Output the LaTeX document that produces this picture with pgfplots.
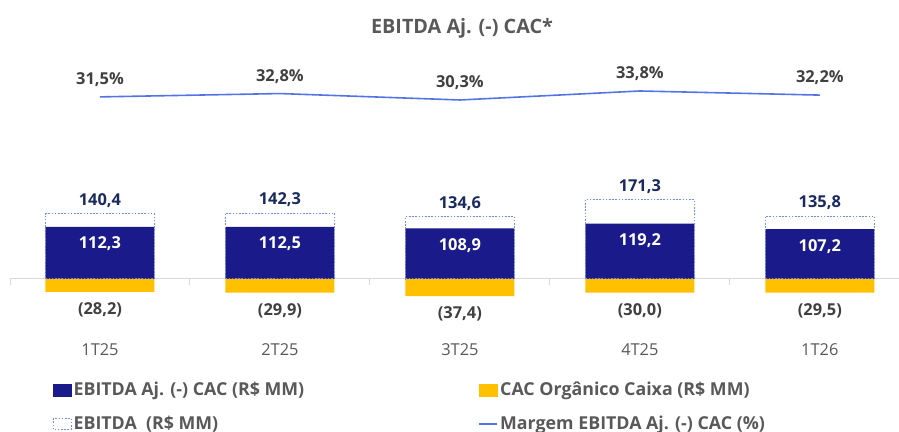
\documentclass[border=0pt]{standalone}
\usepackage{fontspec}
\setmainfont{Open Sans}
\usepackage{pgfplots}
\pgfplotsset{compat=1.18}
\definecolor{navy}{RGB}{26,26,138}
\definecolor{cac}{RGB}{255,192,0}
\definecolor{lineblue}{RGB}{84,116,230}
\definecolor{dashblue}{RGB}{110,140,255}
\definecolor{txt}{RGB}{89,89,89}
\definecolor{dark}{RGB}{64,64,64}
\definecolor{valblue}{RGB}{25,42,95}
\definecolor{base}{RGB}{217,217,217}
\newcommand\lbl{\bfseries\fontsize{16.4}{19}\selectfont}
\newcommand\leg{\bfseries\fontsize{17.8}{21}\selectfont}
\begin{document}
\begin{tikzpicture}[x=1pt,y=1pt]
\useasboundingbox (0,0) rectangle (899,431);
\node[font=\bfseries\fontsize{19.8}{23}\selectfont, text=txt] at (462,403) {EBITDA Aj. (-) CAC*};
\begin{axis}[
  at={(10pt,129pt)}, anchor=south west, scale only axis,
  width=889pt, height=138.9pt,
  xmin=-0.5, xmax=4.44, ymin=-50, ymax=250,
  clip=false,
  axis x line=middle, axis y line=none,
  x axis line style={base, line width=1pt, -},
  xtick={-0.5,0.5,1.5,2.5,3.5}, xticklabels={},
  tick align=outside, major tick length=6pt,
  xtick style={base, line width=1pt},
  extra x ticks={0,1,2,3,4},
  extra x tick labels={1T25,2T25,3T25,4T25,1T26},
  extra x tick style={major tick length=0pt, ticklabel style={yshift=-61pt}},
  xticklabel style={font=\fontsize{16.4}{19}\selectfont, text=txt},
  ytick=\empty,
  legend columns=2,
  legend cell align=left,
  legend style={at={(axis description cs:0,0)}, anchor=north west,
    xshift=43pt, yshift=-80pt, draw=none, fill=none, inner sep=0pt,
    font=\leg, text=txt, row sep=19pt,
    nodes={inner sep=0pt},
    /tikz/every odd column/.style={column sep=2pt}},
]
\addplot[ybar, bar width=109pt, bar shift=0pt, fill=navy, draw=none, forget plot,
  nodes near coords, point meta=explicit symbolic,
  nodes near coords style={anchor=center, yshift=-17pt, text=white, font=\lbl}]
  coordinates {(0,112.3)[112,3] (1,112.5)[112,5] (2,108.9)[108,9] (3,119.2)[119,2] (4,107.2)[107,2]};
\addplot[ybar, bar width=109pt, bar shift=0pt, fill=cac, draw=none, forget plot,
  nodes near coords, point meta=explicit symbolic,
  nodes near coords style={anchor=center, yshift=-18pt, text=dark, font=\lbl}]
  coordinates {(0,-28.2)[(28,2)] (1,-29.9)[(29,9)] (2,-37.4)[(37,4)] (3,-30.0)[(30,0)] (4,-29.5)[(29,5)]};
\addplot[ybar, bar width=109pt, bar shift=0pt, fill=none, draw=dashblue, line width=0.8pt,
  dash pattern=on 1.6pt off 1.6pt, forget plot,
  nodes near coords, point meta=explicit symbolic,
  nodes near coords style={anchor=center, yshift=13pt, text=valblue, font=\lbl, solid}]
  coordinates {(0,140.4)[140,4] (1,142.3)[142,3] (2,134.6)[134,6] (3,171.3)[171,3] (4,135.8)[135,8]};
\addlegendimage{legend image code/.code={\fill[navy] (0pt,-6pt) rectangle (18pt,6pt);}}
\addlegendentry{\makebox[405pt][l]{EBITDA Aj. (-) CAC (R\$ MM)}}
\addlegendimage{legend image code/.code={\fill[cac] (0pt,-6pt) rectangle (18pt,6pt);}}
\addlegendentry{CAC Orgânico Caixa (R\$ MM)}
\addlegendimage{legend image code/.code={\draw[dashblue, line width=0.8pt, dash pattern=on 1.6pt off 1.6pt] (0.4pt,-5.6pt) rectangle (17.6pt,5.6pt);}}
\addlegendentry{EBITDA\ \ (R\$ MM)}
\addlegendimage{legend image code/.code={\draw[lineblue, line width=1.6pt] (0pt,0pt) -- (18pt,0pt);}}
\addlegendentry{Margem EBITDA Aj. (-) CAC (\%)}
\end{axis}
\begin{axis}[
  at={(10pt,325.1pt)}, anchor=south west, scale only axis,
  width=889pt, height=20.57pt,
  xmin=-0.5, xmax=4.44, ymin=28, ymax=36,
  hide axis, clip=false]
\addplot[lineblue, line width=1.6pt, mark=none,
  nodes near coords, point meta=explicit symbolic,
  nodes near coords style={anchor=center, yshift=17pt, text=dark, font=\lbl}]
  coordinates {(0,31.5)[31,5\%] (1,32.8)[32,8\%] (2,30.3)[30,3\%] (3,33.8)[33,8\%] (4,32.2)[32,2\%]};
\end{axis}
\end{tikzpicture}
\end{document}
